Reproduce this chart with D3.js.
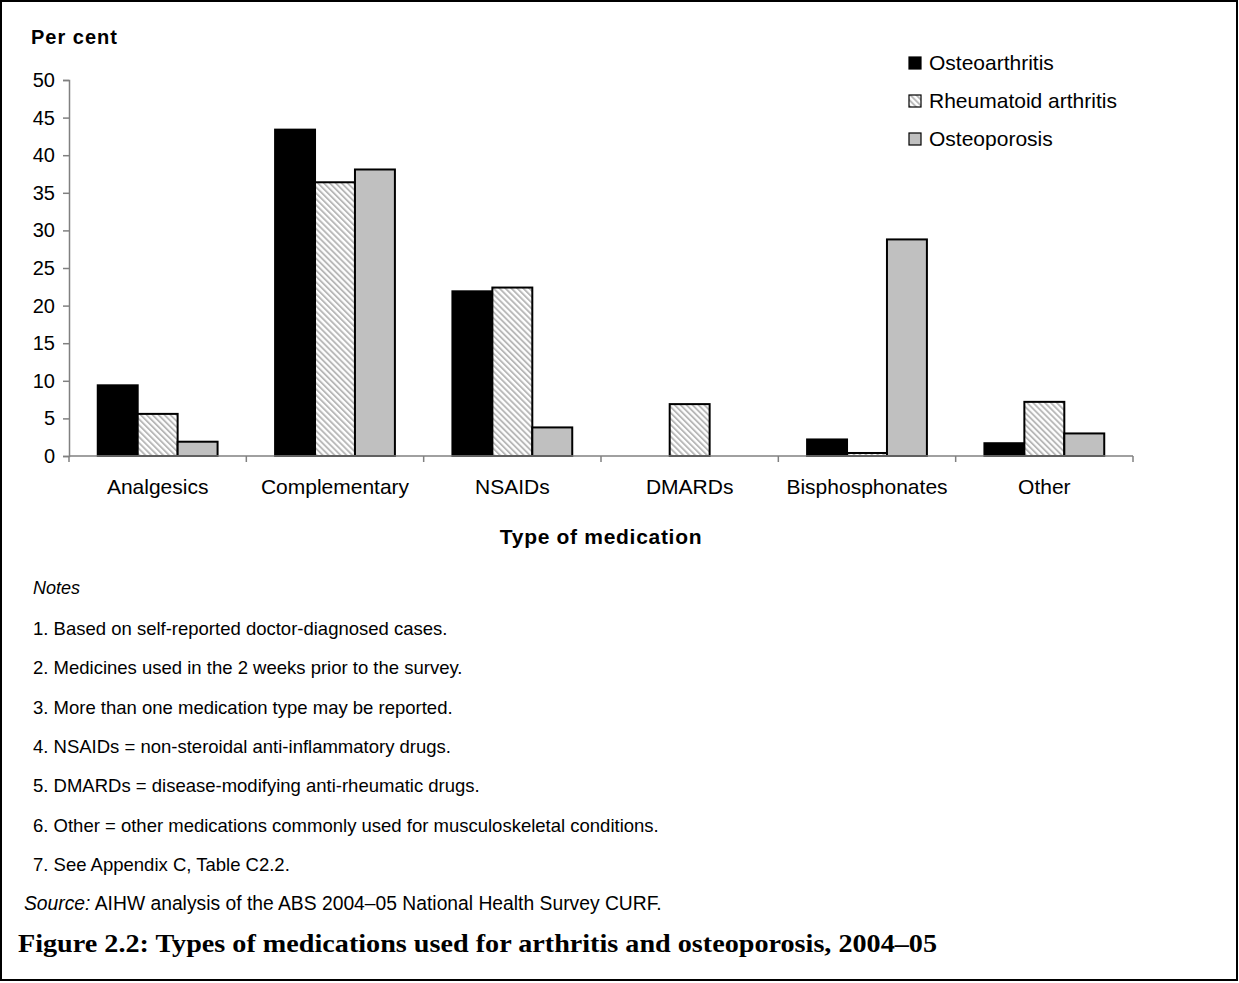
<!DOCTYPE html>
<html>
<head>
<meta charset="utf-8">
<script src="https://cdn.jsdelivr.net/npm/d3@7"></script>
<style>
  html, body { margin: 0; padding: 0; background: #fff; }
  svg { display: block; }
  text { font-family: "Liberation Sans", Arial, sans-serif; fill: #000; }
  text.caption { font-family: "Liberation Serif", "DejaVu Serif", serif; }
</style>
</head>
<body>
<svg id="chart" width="1239" height="983"></svg>
<script>
// ---- data ----
const categories = ["Analgesics", "Complementary", "NSAIDs", "DMARDs", "Bisphosphonates", "Other"];
const seriesNames = ["Osteoarthritis", "Rheumatoid arthritis", "Osteoporosis"];
const osteoarthritis = [9.4, 43.4, 21.9, 0, 2.2, 1.7];
const rheumatoidArthritis = [5.6, 36.4, 22.4, 6.9, 0.4, 7.2];
const osteoporosis = [1.9, 38.1, 3.8, 0, 28.8, 3.0];
const yTicks = [0, 5, 10, 15, 20, 25, 30, 35, 40, 45, 50];
const notes = [
  "1. Based on self-reported doctor-diagnosed cases.",
  "2. Medicines used in the 2 weeks prior to the survey.",
  "3. More than one medication type may be reported.",
  "4. NSAIDs = non-steroidal anti-inflammatory drugs.",
  "5. DMARDs = disease-modifying anti-rheumatic drugs.",
  "6. Other = other medications commonly used for musculoskeletal conditions.",
  "7. See Appendix C, Table C2.2."
];
const seriesValues = [osteoarthritis, rheumatoidArthritis, osteoporosis];

// ---- setup ----
const svg = d3.select("#chart");
const defs = svg.append("defs");
const pat = defs.append("pattern")
  .attr("id", "hatch")
  .attr("patternUnits", "userSpaceOnUse")
  .attr("width", 4.2).attr("height", 4.2)
  .attr("patternTransform", "rotate(-45)");
pat.append("rect").attr("width", 4.2).attr("height", 4.2).attr("fill", "#fff");
pat.append("rect").attr("x", 0).attr("width", 1.9).attr("height", 4.2).attr("fill", "#b8b8b8");

const fills = ["#000000", "url(#hatch)", "#c0c0c0"];

// frame
svg.append("rect").attr("x", 1).attr("y", 1).attr("width", 1236).attr("height", 979)
  .attr("fill", "none").attr("stroke", "#000").attr("stroke-width", 2);

const plotLeft = 69, plotRight = 1133, plotTop = 80, plotBottom = 456;

const x0 = d3.scaleBand().domain(categories).range([plotLeft, plotRight]).padding(0);
const x1 = d3.scaleBand().domain(seriesNames).range([0, x0.bandwidth()])
  .paddingInner(0).paddingOuter(0.72);
const y = d3.scaleLinear().domain([0, 50]).range([plotBottom, plotTop]);

// y axis
const yAxis = svg.append("g").attr("transform", `translate(${plotLeft},0)`)
  .call(d3.axisLeft(y).tickValues(yTicks).tickSize(6).tickPadding(8).tickFormat(d3.format("d")));
yAxis.select(".domain").attr("stroke", "#808080").attr("stroke-width", 1.5);
yAxis.selectAll(".tick line").attr("stroke", "#808080").attr("stroke-width", 1.5);
yAxis.selectAll(".tick text").attr("font-size", 20).attr("fill", "#000");

// bars
const groups = svg.append("g").selectAll("g")
  .data(categories)
  .join("g")
  .attr("transform", d => `translate(${x0(d)},0)`);

groups.selectAll("rect")
  .data((c, ci) => seriesNames.map((s, si) => ({ s, si, v: seriesValues[si][ci] })).filter(d => d.v > 0))
  .join("rect")
  .attr("x", d => x1(d.s))
  .attr("y", d => y(d.v))
  .attr("width", x1.bandwidth())
  .attr("height", d => y(0) - y(d.v))
  .attr("fill", d => fills[d.si])
  .attr("stroke", "#000")
  .attr("stroke-width", 2);

// x axis
const xAxisG = svg.append("g").attr("transform", `translate(0,${plotBottom})`);
xAxisG.append("line").attr("x1", plotLeft).attr("x2", plotRight).attr("y1", 0).attr("y2", 0)
  .attr("stroke", "#808080").attr("stroke-width", 1.5);
const bounds = categories.map(c => x0(c)).concat([x0(categories[categories.length - 1]) + x0.bandwidth()]);
xAxisG.selectAll("line.tk").data(bounds).join("line").attr("class", "tk")
  .attr("x1", d => d).attr("x2", d => d).attr("y1", 0).attr("y2", 6)
  .attr("stroke", "#808080").attr("stroke-width", 1.5);
svg.append("g").selectAll("text").data(categories).join("text")
  .attr("x", d => x0(d) + x0.bandwidth() / 2)
  .attr("y", 494)
  .attr("text-anchor", "middle")
  .attr("font-size", 21)
  .text(d => d);

// titles
svg.append("text").attr("x", 31).attr("y", 44).attr("font-size", 20).attr("font-weight", "bold")
  .attr("letter-spacing", 1).text("Per cent");
svg.append("text").attr("x", (plotLeft + plotRight) / 2).attr("y", 544).attr("text-anchor", "middle")
  .attr("font-size", 21).attr("font-weight", "bold").attr("letter-spacing", 0.7).text("Type of medication");

// legend
const legend = svg.append("g").attr("transform", "translate(909,63)");
const li = legend.selectAll("g").data(seriesNames).join("g")
  .attr("transform", (d, i) => `translate(0,${i * 38})`);
li.append("rect").attr("x", 0).attr("y", -6).attr("width", 12).attr("height", 12)
  .attr("fill", (d, i) => fills[i]).attr("stroke", "#000").attr("stroke-width", 1.2);
li.append("text").attr("x", 20).attr("y", 7).attr("font-size", 21).text(d => d);

// notes
svg.append("text").attr("x", 33).attr("y", 594).attr("font-size", 18).attr("font-style", "italic").text("Notes");
svg.append("g").selectAll("text").data(notes).join("text")
  .attr("x", 33).attr("y", (d, i) => 635 + i * 39.3)
  .attr("font-size", 18.5).text(d => d);
const src = svg.append("text").attr("x", 24).attr("y", 910).attr("font-size", 19.3);
src.append("tspan").attr("font-style", "italic").text("Source:");
src.append("tspan").text(" AIHW analysis of the ABS 2004–05 National Health Survey CURF.");

// caption
svg.append("text").attr("class", "caption").attr("x", 18).attr("y", 952)
  .attr("font-size", 25).attr("font-weight", "bold")
  .attr("textLength", 919).attr("lengthAdjust", "spacingAndGlyphs")
  .text("Figure 2.2: Types of medications used for arthritis and osteoporosis, 2004–05");
</script>
</body>
</html>
